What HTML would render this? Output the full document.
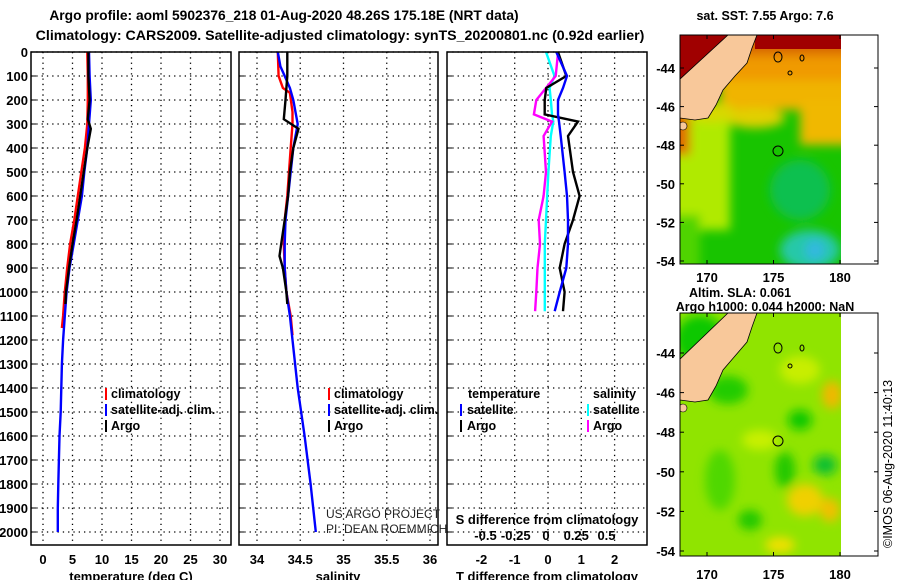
<!DOCTYPE html>
<html><head><meta charset="utf-8"><style>
body{margin:0;background:#fff}
svg{display:block}
text{font-family:"Liberation Sans",sans-serif;font-weight:bold;font-size:13px;fill:#000}
.tk{font-size:13px}
.lg{font-size:12.5px}
.nm{font-weight:normal;font-size:12px;fill:#222}
</style></head><body>
<svg id="chart" width="900" height="580" viewBox="0 0 900 580" xmlns="http://www.w3.org/2000/svg">
<defs>
<filter id="bl" x="-20%" y="-20%" width="140%" height="140%"><feGaussianBlur stdDeviation="5"/></filter>
<clipPath id="cm1"><rect x="680" y="35" width="161" height="229"/></clipPath>
<clipPath id="cm2"><rect x="680" y="313" width="161" height="243"/></clipPath>
</defs>
<text x="284" y="20" text-anchor="middle" style="font-size:13.8px">Argo profile: aoml 5902376_218 01-Aug-2020 48.26S 175.18E (NRT data)</text>
<text x="340" y="40" text-anchor="middle" style="font-size:14.2px">Climatology: CARS2009. Satellite-adjusted climatology: synTS_20200801.nc (0.92d earlier)</text>
<g id="grid"></g>
<g id="series"></g>
<g id="frames"></g>
<g id="labels"></g>

<g>
<rect x="105" y="388" width="2" height="12" fill="#f00"/><text class="lg" x="111" y="398">climatology</text>
<rect x="105" y="404" width="2" height="12" fill="#00f"/><text class="lg" x="111" y="414">satellite-adj. clim.</text>
<rect x="105" y="420" width="2" height="12" fill="#000"/><text class="lg" x="111" y="430">Argo</text>
</g>
<g>
<rect x="328" y="388" width="2" height="12" fill="#f00"/><text class="lg" x="334" y="398">climatology</text>
<rect x="328" y="404" width="2" height="12" fill="#00f"/><text class="lg" x="334" y="414">satellite-adj. clim.</text>
<rect x="328" y="420" width="2" height="12" fill="#000"/><text class="lg" x="334" y="430">Argo</text>
</g>
<g>
<text class="lg" x="468" y="398">temperature</text><text class="lg" x="593" y="398">salinity</text>
<rect x="460" y="404" width="2" height="12" fill="#00f"/><text class="lg" x="467" y="414">satellite</text>
<rect x="460" y="420" width="2" height="12" fill="#000"/><text class="lg" x="467" y="430">Argo</text>
<rect x="587" y="404" width="2" height="12" fill="#0ff"/><text class="lg" x="593" y="414">satellite</text>
<rect x="587" y="420" width="2" height="12" fill="#f0f"/><text class="lg" x="593" y="430">Argo</text>
</g>
<text class="nm" x="326" y="518">US ARGO PROJECT</text>
<text class="nm" x="326" y="533">PI: DEAN ROEMMICH</text>
<text class="tk" x="547" y="524" text-anchor="middle">S difference from climatology</text>

<text x="765" y="20" text-anchor="middle" style="font-size:12.5px">sat. SST: 7.55 Argo: 7.6</text>
<g clip-path="url(#cm1)">
<rect x="680" y="35" width="161" height="229" fill="#18c400"/>
<g filter="url(#bl)">
<rect x="660" y="110" width="70" height="120" fill="#b0ea00"/>
<rect x="660" y="215" width="40" height="60" fill="#50d400"/>
<rect x="660" y="20" width="200" height="40" fill="#d86800"/>
<rect x="660" y="55" width="200" height="30" fill="#f09a00"/>
<rect x="720" y="80" width="140" height="30" fill="#f0b400"/>
<rect x="800" y="100" width="60" height="45" fill="#f0b800"/>
<ellipse cx="755" cy="118" rx="30" ry="10" fill="#e0d000"/>
<rect x="660" y="105" width="30" height="50" fill="#e06a00"/>
<ellipse cx="710" cy="112" rx="25" ry="10" fill="#d8d800"/>
<ellipse cx="810" cy="250" rx="30" ry="20" fill="#28c8a8"/>
<ellipse cx="815" cy="250" rx="10" ry="10" fill="#30b8e0"/>
<ellipse cx="800" cy="190" rx="30" ry="30" fill="#10c050"/>
</g>
<rect x="755" y="35" width="90" height="14" fill="#a00000"/>
<polygon points="680,35 728,35 679,80" fill="#a00000"/>
<polygon points="679,80 728,35 757,35 752,48 747,63 735,76 723,90 716,105 708,118 695,120 680,118" fill="#f8c89a" stroke="#000" stroke-width="0.8"/>
<circle cx="683" cy="126" r="4" fill="#f8c89a" stroke="#000" stroke-width="0.6"/>
<ellipse cx="778" cy="57" rx="4" ry="5" fill="none" stroke="#000"/>
<ellipse cx="802" cy="58" rx="2" ry="3" fill="none" stroke="#000"/>
<circle cx="790" cy="73" r="2" fill="none" stroke="#000"/>
<circle cx="778" cy="151" r="5" fill="none" stroke="#000"/>
</g>
<rect x="680" y="35" width="198" height="229" fill="none" stroke="#000"/>
<text x="740" y="297" text-anchor="middle" style="font-size:12.5px">Altim. SLA: 0.061</text>
<text x="765" y="311" text-anchor="middle" style="font-size:12.5px">Argo h1000: 0.044 h2000: NaN</text>
<g clip-path="url(#cm2)">
<rect x="680" y="313" width="161" height="243" fill="#90e400"/>
<g filter="url(#bl)">
<ellipse cx="700" cy="340" rx="25" ry="25" fill="#10c800"/>
<ellipse cx="728" cy="390" rx="20" ry="14" fill="#20cc00"/>
<ellipse cx="800" cy="370" rx="20" ry="14" fill="#c8ee00"/>
<ellipse cx="832" cy="395" rx="10" ry="14" fill="#f0b800"/>
<ellipse cx="760" cy="440" rx="18" ry="10" fill="#c8f000"/>
<ellipse cx="800" cy="420" rx="12" ry="10" fill="#10c800"/>
<ellipse cx="805" cy="500" rx="18" ry="16" fill="#f0d000"/>
<ellipse cx="830" cy="510" rx="10" ry="12" fill="#f0c000"/>
<ellipse cx="720" cy="480" rx="15" ry="30" fill="#50d800"/>
<ellipse cx="785" cy="470" rx="10" ry="18" fill="#20c800"/>
<ellipse cx="780" cy="545" rx="15" ry="8" fill="#f0e000"/>
<ellipse cx="825" cy="465" rx="12" ry="10" fill="#10c030"/>
<ellipse cx="750" cy="520" rx="12" ry="10" fill="#20c800"/>
</g>
<polygon points="679,360 728,313 757,313 752,327 747,342 735,356 723,370 716,386 708,400 695,402 680,400" fill="#f8c89a" stroke="#000" stroke-width="0.8"/>
<circle cx="683" cy="408" r="4" fill="#f8c89a" stroke="#000" stroke-width="0.6"/>
<ellipse cx="778" cy="348" rx="4" ry="5" fill="none" stroke="#000"/>
<ellipse cx="802" cy="348" rx="2" ry="3" fill="none" stroke="#000"/>
<circle cx="790" cy="366" r="2" fill="none" stroke="#000"/>
<circle cx="778" cy="441" r="5" fill="none" stroke="#000"/>
</g>
<rect x="680" y="313" width="198" height="243" fill="none" stroke="#000"/>
<g id="maplabels"></g>
<text class="nm" transform="translate(892,548) rotate(-90)" style="font-size:12.5px;fill:#000">©IMOS 06-Aug-2020 11:40:13</text>
</svg>
<script>
// ---- data ----
const tempClimDepth=[0,100,200,300,400,500,600,700,800,900,1000,1100,1150];
const tempClim=[7.5,7.6,7.6,7.5,7.1,6.5,5.9,5.3,4.6,4.1,3.7,3.4,3.2];
const tempSatDepth=[0,100,200,300,400,500,600,700,800,900,1000,1100,1200,1300,1400,1500,1600,1700,1800,1900,2000];
const tempSat=[7.8,7.9,8.1,7.8,7.5,7.0,6.6,5.9,5.2,4.5,4.0,3.7,3.4,3.2,3.1,3.0,2.8,2.7,2.6,2.5,2.5];
const tempArgoDepth=[0,100,200,280,320,400,500,600,700,800,900,1000,1050];
const tempArgo=[7.7,7.7,7.9,7.6,8.1,7.5,6.9,6.3,5.7,5.0,4.4,3.9,3.8];
const salClimDepth=[0,100,150,170,250,300,400,500,600,700,800,900,1000,1100,1180];
const salClim=[34.24,34.25,34.30,34.38,34.41,34.41,34.39,34.37,34.35,34.32,34.31,34.32,34.34,34.39,34.41];
const salSatDepth=[0,60,100,150,200,300,400,500,600,700,800,900,1000,1100,1200,1400,1600,1800,2000];
const salSat=[34.24,34.27,34.32,34.38,34.42,34.47,34.42,34.39,34.36,34.33,34.32,34.32,34.34,34.38,34.41,34.47,34.55,34.62,34.68];
const salArgoDepth=[0,100,200,280,320,400,500,600,700,800,850,900,1000,1050];
const salArgo=[34.35,34.35,34.33,34.31,34.48,34.42,34.38,34.36,34.32,34.28,34.26,34.30,34.34,34.35];
const diffDepth=[0,100,150,200,260,290,350,500,600,700,800,900,1000,1080];
const tDiffSat=[0.25,0.57,0.45,0.3,0.3,0.33,0.38,0.5,0.57,0.6,0.6,0.55,0.35,0.2];
const tDiffArgo=[0.3,0.55,-0.05,-0.1,-0.1,0.9,0.6,0.75,0.95,0.75,0.5,0.35,0.5,0.45];
const sDiffSat=[0.0,0.07,0.03,0.04,0.05,0.06,0.04,0.02,0.01,0.0,-0.01,-0.01,-0.01,-0.01];
const sDiffArgo=[0.1,0.08,0.0,-0.08,-0.1,0.05,-0.02,0.0,-0.02,-0.06,-0.05,-0.07,-0.08,-0.09];
const depthTicks=[0,100,200,300,400,500,600,700,800,900,1000,1100,1200,1300,1400,1500,1600,1700,1800,1900,2000];
const tempTicks=[0,5,10,15,20,25,30];
const salTicks=[34,34.5,35,35.5,36];
const salTickLabels=["34","34.5","35","35.5","36"];
const tDiffTicks=[-2,-1,0,1,2];
const sDiffTicks=[-0.5,-0.25,0,0.25,0.5];
const latTicks=[-44,-46,-48,-50,-52,-54];
const lonTicks=[170,175,180];
// ---- axes ----
const yD=d=>52+d*0.24;
const xT=t=>43+5.9*t;
const xS=s=>257+86.5*(s-34);
const xTD=v=>548+33.3*v;
const xSD=v=>546+121*v;
const lat1=l=>68+(-44-l)*19.3;
const lat2=l=>353+(-44-l)*19.8;
const lonX=l=>707+(l-170)*13.3;
const NS='http://www.w3.org/2000/svg';
function mk(tag,parent,attrs){const e=document.createElementNS(NS,tag);for(const k in attrs)e.setAttribute(k,attrs[k]);parent.appendChild(e);return e;}
const grid=document.getElementById('grid'),ser=document.getElementById('series'),fr=document.getElementById('frames'),lab=document.getElementById('labels'),ml=document.getElementById('maplabels');
const panels=[[31,231],[239,438],[447,647]];
const vg=[tempTicks.map(xT),salTicks.map(xS),tDiffTicks.map(xTD)];
panels.forEach((p,i)=>{
  depthTicks.forEach(d=>{const l=mk('line',grid,{x1:p[0],x2:p[1],y1:yD(d),y2:yD(d),stroke:'#000','stroke-dasharray':'1.3,4','stroke-width':1.3});
    
    const t=mk('line',grid,{x1:p[0],x2:p[0]+5,y1:yD(d),y2:yD(d),stroke:'#000'});});
  vg[i].forEach(x=>{const l=mk('line',grid,{x1:x,x2:x,y1:52,y2:545,stroke:'#000','stroke-dasharray':'1.3,4','stroke-width':1.3});
    });
  const r=mk('rect',fr,{x:p[0],y:52,width:p[1]-p[0],height:493,fill:'none',stroke:'#000','stroke-width':1.5});
  
});
function line(depths,vals,fx,color,name){
  const pts=depths.map((d,i)=>fx(vals[i]).toFixed(1)+','+yD(d).toFixed(1)).join(' ');
  const e=mk('polyline',ser,{points:pts,fill:'none',stroke:color,'stroke-width':2.4,'stroke-linejoin':'miter'});
  
}
line(tempClimDepth,tempClim,xT,'#f00','temp-climatology-line');
line(tempSatDepth,tempSat,xT,'#00f','temp-satellite-line');
line(tempArgoDepth,tempArgo,xT,'#000','temp-argo-line');
line(salClimDepth,salClim,xS,'#f00','sal-climatology-line');
line(salSatDepth,salSat,xS,'#00f','sal-satellite-line');
line(salArgoDepth,salArgo,xS,'#000','sal-argo-line');
line(diffDepth,sDiffSat,xSD,'#0ff','s-diff-satellite-line');
line(diffDepth,sDiffArgo,xSD,'#f0f','s-diff-argo-line');
line(diffDepth,tDiffArgo,xTD,'#000','t-diff-argo-line');
line(diffDepth,tDiffSat,xTD,'#00f','t-diff-satellite-line');
function txt(parent,x,y,s,anchor,name){const e=mk('text',parent,{x:x,y:y,'text-anchor':anchor,class:'tk'});e.textContent=s;
  return e;}
depthTicks.forEach(d=>txt(lab,28,yD(d)+5,String(d),'end','depth-tick-label'));
tempTicks.forEach(t=>txt(lab,xT(t),564,String(t),'middle','temp-tick-label'));
salTicks.forEach((s,i)=>txt(lab,xS(s),564,salTickLabels[i],'middle','sal-tick-label'));
tDiffTicks.forEach(t=>txt(lab,xTD(t),564,String(t),'middle','t-diff-tick-label'));
sDiffTicks.forEach(t=>txt(lab,xSD(t),540,String(t),'middle','s-diff-tick-label'));
txt(lab,131,581,'temperature (deg C)','middle','temp-axis-title');
txt(lab,338,581,'salinity','middle','sal-axis-title');
txt(lab,547,581,'T difference from climatology','middle','t-diff-axis-title');
latTicks.forEach(l=>{
  txt(ml,675,lat1(l)+5,String(l),'end','top-map-lat-label');
  txt(ml,675,lat2(l)+5,String(l),'end','bottom-map-lat-label');
  [[lat1(l)],[lat2(l)]].forEach(y=>{
    const a=mk('line',ml,{x1:680,x2:684,y1:y[0],y2:y[0],stroke:'#000'});
    const b=mk('line',ml,{x1:874,x2:878,y1:y[0],y2:y[0],stroke:'#000'});});
});
lonTicks.forEach(l=>{
  txt(ml,lonX(l),282,String(l),'middle','top-map-lon-label');
  txt(ml,lonX(l),579,String(l),'middle','bottom-map-lon-label');
  [[35,39],[260,264],[313,317],[552,556]].forEach(y=>{const a=mk('line',ml,{x1:lonX(l),x2:lonX(l),y1:y[0],y2:y[1],stroke:'#000'});
    });
});
</script>
</body></html>
